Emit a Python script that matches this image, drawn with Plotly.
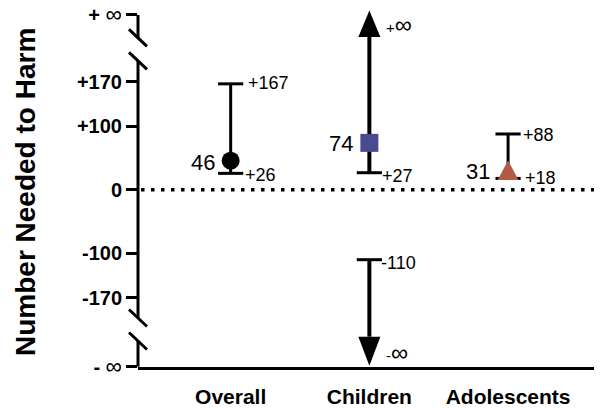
import plotly.graph_objects as go

# ---------------- data ----------------
CATEGORIES = ["Overall", "Children", "Adolescents"]
POINT = [46, 74, 31]
CI_LOW = [26, 27, 18]
CI_HIGH = [167, -110, 88]          # CI_HIGH < CI_LOW -> interval passes through infinity
POINT_LABELS = ["46", "74", "31"]
LOW_LABELS = ["+26", "+27", "+18"]
HIGH_LABELS = ["+167", "-110", "+88"]
Y_TICK_VALUES_FINITE = [170, 100, 0, -100, -170]
Y_TICK_TEXT_FINITE = ["+170", "+100", "0", "-100", "-170"]

# ---------------- geometry / style ----------------
OFF = 8                    # page body margin
W, H = 602 - OFF, 408 - OFF
ML, MR, MT, MB = 138 - OFF, 1, 10 - OFF, 41
Y_RANGE = [-279.0, 283.3]
X_RANGE = [-0.668, 2.67]
POS_INF = 275.5          # axis position used for "+ infinity"
NEG_INF = -278.5         # axis position used for "- infinity"
BREAKS = [239.3, 203.1, -201.8, -238.0]   # axis-break slash centres (axis units)

PY = (H - MT - MB) / (Y_RANGE[1] - Y_RANGE[0])
PX = (W - ML - MR) / (X_RANGE[1] - X_RANGE[0])
def dy(p): return p / PY
def dx(p): return p / PX

FONT = "Liberation Sans, Arial, Helvetica, sans-serif"
COLORS = ["#000000", "#4A4A8E", "#B35A45"]
SYMBOLS = ["circle", "square", "triangle"]

fig = go.Figure()

top_base = POS_INF - dy(22)
top_tip = POS_INF + dy(4.5)
bot_base = NEG_INF + dy(30)
bot_tip = NEG_INF + dy(1)
hw = dx(11)

for i, cat in enumerate(CATEGORIES):
    lo, hi = CI_LOW[i], CI_HIGH[i]
    if hi >= lo:
        fig.add_trace(go.Scatter(x=[i, i], y=[lo, hi], mode="lines",
                                 line=dict(color="black", width=3), hoverinfo="skip"))
    else:
        fig.add_trace(go.Scatter(x=[i, i], y=[lo, top_base], mode="lines",
                                 line=dict(color="black", width=4), hoverinfo="skip"))
        fig.add_trace(go.Scatter(x=[i, i], y=[bot_base, hi], mode="lines",
                                 line=dict(color="black", width=4), hoverinfo="skip"))
        fig.add_trace(go.Scatter(x=[i - hw, i + hw, i, i - hw],
                                 y=[top_base, top_base, top_tip, top_base],
                                 mode="lines", fill="toself", fillcolor="black",
                                 line=dict(width=0, color="black"), hoverinfo="skip"))
        fig.add_trace(go.Scatter(x=[i - hw, i + hw, i, i - hw],
                                 y=[bot_base, bot_base, bot_tip, bot_base],
                                 mode="lines", fill="toself", fillcolor="black",
                                 line=dict(width=0, color="black"), hoverinfo="skip"))
    fig.add_trace(go.Scatter(x=[i, i], y=[lo, hi], mode="markers",
                             marker=dict(symbol="line-ew", size=18,
                                         line=dict(color="black", width=3)),
                             hoverinfo="skip"))
    if SYMBOLS[i] == "triangle":
        th = dy(19.5)
        thw = dx(10.5)
        v = POINT[i]
        fig.add_trace(go.Scatter(x=[i - thw, i + thw, i, i - thw],
                                 y=[v - th / 2, v - th / 2, v + th / 2, v - th / 2],
                                 mode="lines", fill="toself", fillcolor=COLORS[i],
                                 line=dict(width=0, color=COLORS[i]), hoverinfo="skip"))
    else:
        fig.add_trace(go.Scatter(x=[i], y=[POINT[i]], mode="markers",
                                 marker=dict(symbol=SYMBOLS[i], size=18, color=COLORS[i],
                                             line=dict(width=0)),
                                 hoverinfo="skip"))

# ---------------- annotations ----------------
ann = []
PT_XSHIFT = [-14, -14, -16]
PT_YSHIFT = [-2, -1, -1]
HI_XSHIFT = [15, 10, 13]
HI_YSHIFT = [1, -3, -1]
LO_XSHIFT = [12, 11, 15]
LO_YSHIFT = [-2, -3, 0]
for i in range(len(CATEGORIES)):
    ann.append(dict(x=i, y=POINT[i], xref="x", yref="y", text=POINT_LABELS[i],
                    showarrow=False, xanchor="right", yanchor="middle",
                    xshift=PT_XSHIFT[i], yshift=PT_YSHIFT[i],
                    font=dict(family=FONT, size=22, color="black")))
    ann.append(dict(x=i, y=CI_HIGH[i], xref="x", yref="y", text=HIGH_LABELS[i],
                    showarrow=False, xanchor="left", yanchor="middle",
                    xshift=HI_XSHIFT[i], yshift=HI_YSHIFT[i],
                    font=dict(family=FONT, size=18, color="black")))
    ann.append(dict(x=i, y=CI_LOW[i], xref="x", yref="y", text=LOW_LABELS[i],
                    showarrow=False, xanchor="left", yanchor="middle",
                    xshift=LO_XSHIFT[i], yshift=LO_YSHIFT[i],
                    font=dict(family=FONT, size=18, color="black")))
    if CI_HIGH[i] < CI_LOW[i]:
        ann.append(dict(x=i, y=POS_INF, xref="x", yref="y",
                        text="+<span style='font-size:24px'>∞</span>",
                        showarrow=False, xanchor="left", yanchor="middle",
                        xshift=15, yshift=-10,
                        font=dict(family=FONT, size=15, color="black")))
        ann.append(dict(x=i, y=NEG_INF, xref="x", yref="y",
                        text="-<span style='font-size:24px'>∞</span>",
                        showarrow=False, xanchor="left", yanchor="middle",
                        xshift=15, yshift=14,
                        font=dict(family=FONT, size=15, color="black")))

ann.append(dict(x=(25 - 138) / (W - ML - MR), y=(408 - MB - 192) / (H - MT - MB),
                xref="paper", yref="paper", text="Number Needed to Harm",
                textangle=-90, showarrow=False, xanchor="center", yanchor="middle",
                font=dict(family=FONT, size=28, color="black", weight="bold")))

# ---------------- shapes: axis with breaks, dotted zero line ----------------
shapes = []
for y0, y1 in [(POS_INF, BREAKS[0]), (BREAKS[1], BREAKS[2]), (BREAKS[3], NEG_INF)]:
    shapes.append(dict(type="line", xref="paper", yref="y", x0=0, x1=0, y0=y0, y1=y1,
                       line=dict(color="black", width=3)))
for b in BREAKS:
    shapes.append(dict(type="line", xref="paper", xsizemode="pixel", xanchor=0,
                       x0=-9, x1=9, yref="y", y0=b + dy(8.5), y1=b - dy(8.5),
                       line=dict(color="black", width=3)))
shapes.append(dict(type="line", xref="paper", yref="y", x0=3 / (W - ML - MR), x1=1,
                   y0=0, y1=0, line=dict(color="black", width=3.5, dash="3.5px,6.5px")))

y_tickvals = [POS_INF] + Y_TICK_VALUES_FINITE + [NEG_INF]
y_ticktext = ["+ <span style='font-weight:normal;font-size:23px'>∞</span>"] + \
    Y_TICK_TEXT_FINITE + ["- <span style='font-weight:normal;font-size:23px'>∞</span>"]

fig.update_layout(
    width=W, height=H,
    margin=dict(l=ML, r=MR, t=MT, b=MB, pad=0, autoexpand=False),
    paper_bgcolor="white", plot_bgcolor="white",
    showlegend=False,
    annotations=ann, shapes=shapes,
    xaxis=dict(range=X_RANGE, tickvals=[0, 1, 2], ticktext=CATEGORIES, automargin=False,
               showgrid=False, zeroline=False, showline=True, linecolor="black",
               linewidth=3, ticks="", ticklabelstandoff=9, ticklabeloverflow="allow",
               tickfont=dict(family=FONT, size=21, color="black", weight="bold")),
    yaxis=dict(range=Y_RANGE, tickvals=y_tickvals, ticktext=y_ticktext, automargin=False,
               showgrid=False, zeroline=False, showline=False, ticklabeloverflow="allow",
               ticks="outside", ticklen=11, tickwidth=3, tickcolor="black",
               tickfont=dict(family=FONT, size=20, color="black", weight="bold")),
)

fig.write_html("out.html")
